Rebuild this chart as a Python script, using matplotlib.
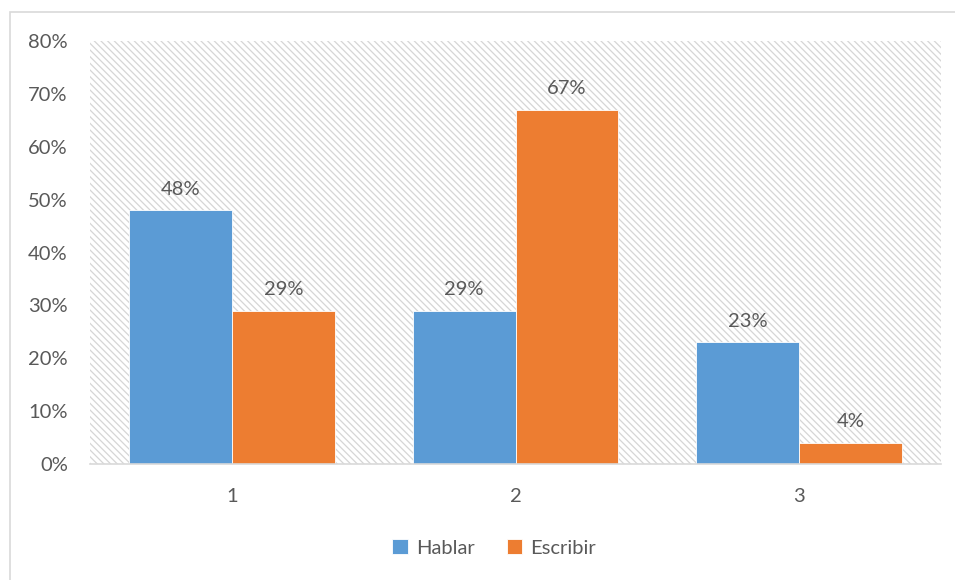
import matplotlib
matplotlib.use("Agg")
import matplotlib.pyplot as plt
import numpy as np
from matplotlib.patches import Rectangle

categories = ["1", "2", "3"]
series_names = ["Hablar", "Escribir"]
hablar = [48, 29, 23]
escribir = [29, 67, 4]
yticks = [0, 10, 20, 30, 40, 50, 60, 70, 80]

plt.rcParams['font.family'] = ['Lato', 'DejaVu Sans']
plt.rcParams['hatch.linewidth'] = 0.9
txt = '#595959'

W, H = 955, 580
fig = plt.figure(figsize=(W/100, H/100), dpi=100)
fig.patches.append(Rectangle((9.5/W, -0.1), 1.2, 1 - 11.5/H + 0.1, transform=fig.transFigure,
                             facecolor='white', edgecolor='#d9d9d9', lw=1.2, zorder=-5))
ax = fig.add_axes([90/W, 1 - 464/H, (941-90)/W, (464-41)/H])
ax.set_zorder(1)
ax.patch.set_alpha(0)
ax.add_patch(Rectangle((0, 0), 1, 1, transform=ax.transAxes, facecolor='white',
                       edgecolor='#d6d6d6', lw=0, hatch='\\' * 5, zorder=0))

x = np.arange(len(categories))
w = 0.363
colors = ['#5B9BD5', '#ED7D31']
for i, (vals, c, name) in enumerate(zip([hablar, escribir], colors, series_names)):
    pos = x + (i - 0.5) * w
    bars = ax.bar(pos, vals, w, color=c, edgecolor='white', linewidth=0.6, label=name, zorder=2)
    for b, v in zip(bars, vals):
        ax.annotate(f"{v}%", (b.get_x() + b.get_width()/2, v), xytext=(0, 9),
                    textcoords='offset points', ha='center', va='bottom', fontsize=14.5, color=txt)

ax.set_xlim(-0.5, 2.5)
ax.set_ylim(0, 80)
ax.set_yticks(yticks)
ax.set_yticklabels([f"{t}%" for t in yticks])
ax.set_xticks(x)
ax.set_xticklabels(categories)
ax.tick_params(axis='y', length=0, pad=16, labelsize=14.5, labelcolor=txt)
ax.tick_params(axis='x', length=0, pad=17, labelsize=14.5, labelcolor=txt)
for s in ['top', 'right', 'left']:
    ax.spines[s].set_visible(False)
ax.spines['bottom'].set_color('#d9d9d9')
ax.spines['bottom'].set_linewidth(1.2)
ax.spines['bottom'].set_zorder(3)

leg = fig.legend(loc='center', bbox_to_anchor=(494/W, 1 - 548/H), ncol=2, frameon=False,
                 fontsize=14.5, handlelength=0.75, handleheight=0.75, handletextpad=0.4,
                 columnspacing=1.6)
for t in leg.get_texts():
    t.set_color(txt)

fig.savefig("out.png", dpi=100)
